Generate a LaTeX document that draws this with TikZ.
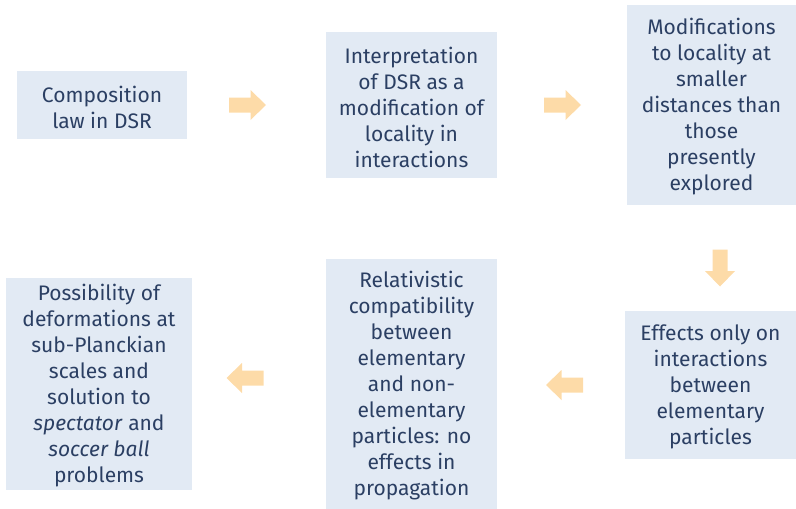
\documentclass[tikz,border=0pt]{standalone}
\usepackage{fontspec}
\setmainfont{Fira Sans}
\begin{document}
\definecolor{boxfill}{HTML}{E2EAF4}
\definecolor{inktext}{HTML}{2B3F63}
\definecolor{arrowfill}{HTML}{FDDBA8}
\begin{tikzpicture}[x=1pt,y=-1pt,
  stepbox/.style={fill=boxfill,draw=none,inner sep=0pt,anchor=center},
  steptext/.style={text=inktext,align=center,inner sep=0pt,
    font=\fontsize{21}{26}\selectfont},
  blockarrow/.pic={\fill[arrowfill] (-18.5,-7.5)--(3,-7.5)--(3,-15)--(18.5,0)--(3,15)--(3,7.5)--(-18.5,7.5)--cycle;}]
\useasboundingbox (0,0) rectangle (796,509);
% boxes
\node[stepbox,minimum width=170pt,minimum height=68pt] (b1) at (102,105) {};
\node[stepbox,minimum width=171pt,minimum height=146pt] (b2) at (411.5,105) {};
\node[stepbox,minimum width=169pt,minimum height=200pt] (b3) at (711.5,105) {};
\node[stepbox,minimum width=171pt,minimum height=148pt] (b4) at (710.5,385) {};
\node[stepbox,minimum width=171pt,minimum height=250pt] (b5) at (411.5,384) {};
\node[stepbox,minimum width=186pt,minimum height=212pt] (b6) at (99,384) {};
% texts, set slightly below each box centre
\node[steptext] (t1) at ([yshift=-2pt]b1.center) {Composition\\law in DSR};
\node[steptext] (t2) at ([yshift=-2pt]b2.center) {Interpretation\\of DSR as a\\modification of\\locality in\\interactions};
\node[steptext] (t3) at ([yshift=-2pt]b3.center) {Modifications\\to locality at\\smaller\\distances than\\those\\presently\\explored};
\node[steptext] (t4) at ([yshift=-2pt]b4.center) {Effects only on\\interactions\\between\\elementary\\particles};
\node[steptext] (t5) at ([yshift=-2pt]b5.center) {Relativistic\\compatibility\\between\\elementary\\and non-\\elementary\\particles: no\\effects in\\propagation};
\node[steptext] (t6) at ([yshift=-2pt]b6.center) {Possibility of\\deformations at\\sub-Planckian\\scales and\\solution to\\\textit{spectator} and\\\textit{soccer ball}\\problems};
% arrows between steps
\coordinate (a12) at (247.5,105);
\coordinate (a23) at (562.5,105);
\coordinate (a34) at (720,268);
\coordinate (a45) at (564.5,385);
\coordinate (a56) at (245,378);
\pic at (a12) {blockarrow};
\pic at (a23) {blockarrow};
\pic[rotate=-90] at (a34) {blockarrow};
\pic[xscale=-1] at (a45) {blockarrow};
\pic[xscale=-1] at (a56) {blockarrow};
\end{tikzpicture}
\end{document}
